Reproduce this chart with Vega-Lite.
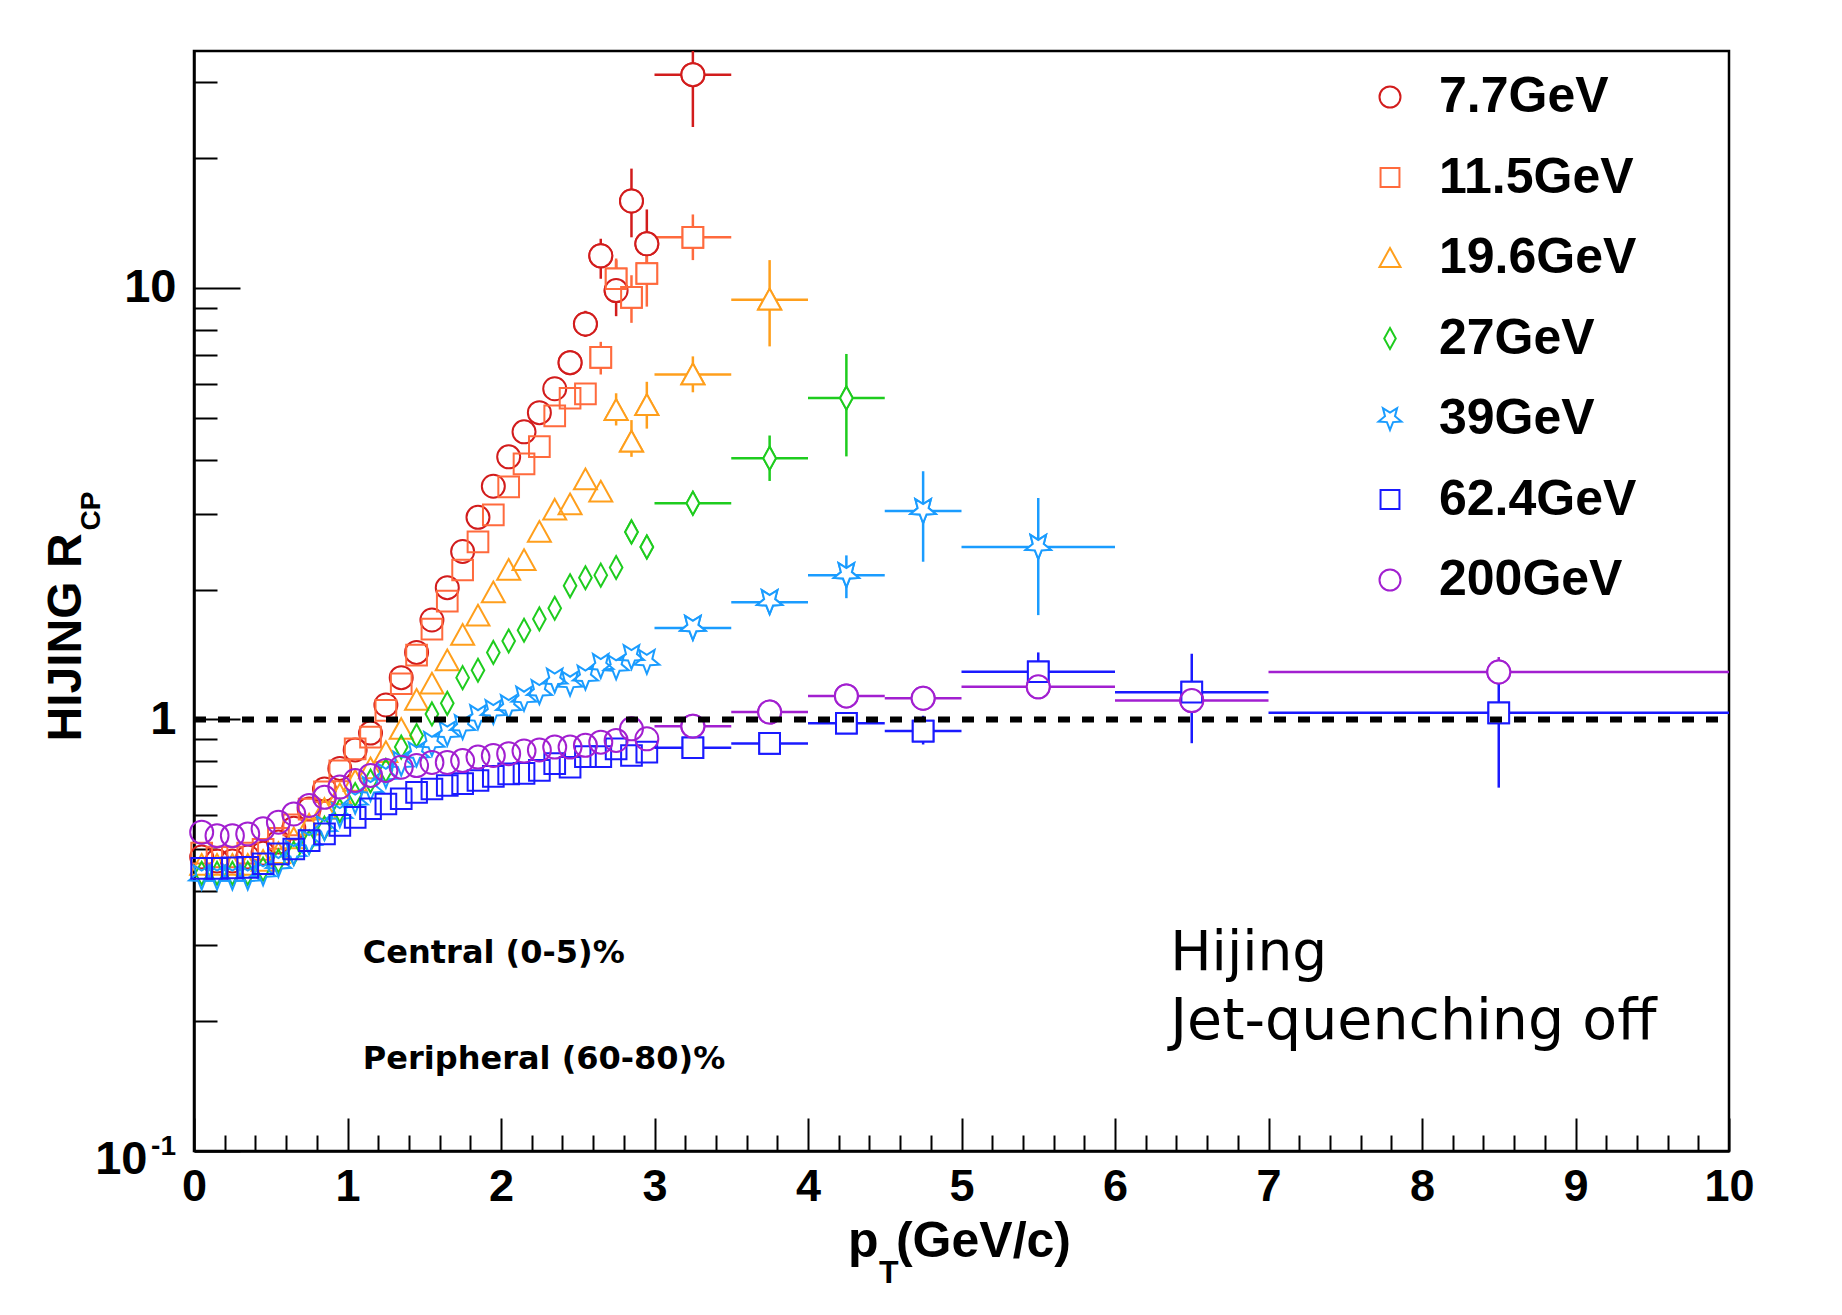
{
 "$schema": "https://vega.github.io/schema/vega-lite/v6.json",
 "width": 1535,
 "height": 1100,
 "autosize": {"type": "none"},
 "padding": {"left": 194, "top": 51, "right": 113, "bottom": 164},
 "background": "white",
 "config": {
  "view": {"stroke": "black", "strokeWidth": 2.5},
  "axis": {"grid": false, "domainColor": "black", "domainWidth": 2.5, "tickColor": "black", "tickWidth": 2, "labelColor": "black", "labelFont": "Liberation Sans", "labelFontWeight": "bold", "labelFontSize": 47, "labelOverlap": false, "labelFlush": false, "labelSeparation": 0, "title": null},
  "legend": {"orient": "none", "legendX": 1171, "legendY": 21, "labelFont": "Liberation Sans", "labelFontWeight": "bold", "labelFontSize": 50, "labelColor": "black", "labelLimit": 500, "symbolSize": 441, "symbolStrokeWidth": 2, "rowPadding": 30.5, "labelOffset": 24, "padding": 0, "direction": "vertical"}
 },
 "data": {"values": [
  {"s":"7.7GeV","pt":0.05,"r":0.48},{"s":"7.7GeV","pt":0.15,"r":0.47},{"s":"7.7GeV","pt":0.25,"r":0.47},{"s":"7.7GeV","pt":0.35,"r":0.48},{"s":"7.7GeV","pt":0.45,"r":0.49},{"s":"7.7GeV","pt":0.55,"r":0.52},{"s":"7.7GeV","pt":0.65,"r":0.56},{"s":"7.7GeV","pt":0.75,"r":0.62},{"s":"7.7GeV","pt":0.85,"r":0.69},{"s":"7.7GeV","pt":0.95,"r":0.77},{"s":"7.7GeV","pt":1.05,"r":0.85},{"s":"7.7GeV","pt":1.15,"r":0.93},{"s":"7.7GeV","pt":1.25,"r":1.08},{"s":"7.7GeV","pt":1.35,"r":1.25},{"s":"7.7GeV","pt":1.45,"r":1.43},{"s":"7.7GeV","pt":1.55,"r":1.70},{"s":"7.7GeV","pt":1.65,"r":2.02},{"s":"7.7GeV","pt":1.75,"r":2.45},{"s":"7.7GeV","pt":1.85,"r":2.94},{"s":"7.7GeV","pt":1.95,"r":3.47},{"s":"7.7GeV","pt":2.05,"r":4.06},{"s":"7.7GeV","pt":2.15,"r":4.64},{"s":"7.7GeV","pt":2.25,"r":5.14},{"s":"7.7GeV","pt":2.35,"r":5.84},{"s":"7.7GeV","pt":2.45,"r":6.71,"lo":6.3,"hi":7.15},{"s":"7.7GeV","pt":2.55,"r":8.25,"lo":7.7,"hi":8.85},{"s":"7.7GeV","pt":2.65,"r":11.87,"lo":10.5,"hi":13.0},{"s":"7.7GeV","pt":2.75,"r":9.86,"lo":8.6,"hi":11.6},{"s":"7.7GeV","pt":2.85,"r":15.9,"lo":13.1,"hi":18.9},{"s":"7.7GeV","pt":2.95,"r":12.65,"lo":10.8,"hi":15.2},{"s":"7.7GeV","pt":3.25,"r":31.2,"lo":23.6,"hi":42,"xl":3,"xh":3.5},

  {"s":"11.5GeV","pt":0.05,"r":0.49},{"s":"11.5GeV","pt":0.15,"r":0.48},{"s":"11.5GeV","pt":0.25,"r":0.48},{"s":"11.5GeV","pt":0.35,"r":0.49},{"s":"11.5GeV","pt":0.45,"r":0.50},{"s":"11.5GeV","pt":0.55,"r":0.53},{"s":"11.5GeV","pt":0.65,"r":0.57},{"s":"11.5GeV","pt":0.75,"r":0.62},{"s":"11.5GeV","pt":0.85,"r":0.68},{"s":"11.5GeV","pt":0.95,"r":0.76},{"s":"11.5GeV","pt":1.05,"r":0.855},{"s":"11.5GeV","pt":1.15,"r":0.91},{"s":"11.5GeV","pt":1.25,"r":1.05},{"s":"11.5GeV","pt":1.35,"r":1.21},{"s":"11.5GeV","pt":1.45,"r":1.41},{"s":"11.5GeV","pt":1.55,"r":1.62},{"s":"11.5GeV","pt":1.65,"r":1.88},{"s":"11.5GeV","pt":1.75,"r":2.22},{"s":"11.5GeV","pt":1.85,"r":2.58},{"s":"11.5GeV","pt":1.95,"r":2.98},{"s":"11.5GeV","pt":2.05,"r":3.46},{"s":"11.5GeV","pt":2.15,"r":3.91},{"s":"11.5GeV","pt":2.25,"r":4.29},{"s":"11.5GeV","pt":2.35,"r":5.05},{"s":"11.5GeV","pt":2.45,"r":5.55},{"s":"11.5GeV","pt":2.55,"r":5.68},{"s":"11.5GeV","pt":2.65,"r":6.9,"lo":6.3,"hi":7.5},{"s":"11.5GeV","pt":2.75,"r":10.5,"lo":9.4,"hi":11.7},{"s":"11.5GeV","pt":2.85,"r":9.51,"lo":8.3,"hi":10.7},{"s":"11.5GeV","pt":2.95,"r":10.8,"lo":9.05,"hi":12.5},{"s":"11.5GeV","pt":3.25,"r":13.1,"lo":11.6,"hi":14.8,"xl":3,"xh":3.5},

  {"s":"19.6GeV","pt":0.05,"r":0.46},{"s":"19.6GeV","pt":0.15,"r":0.46},{"s":"19.6GeV","pt":0.25,"r":0.46},{"s":"19.6GeV","pt":0.35,"r":0.46},{"s":"19.6GeV","pt":0.45,"r":0.47},{"s":"19.6GeV","pt":0.55,"r":0.49},{"s":"19.6GeV","pt":0.65,"r":0.53},{"s":"19.6GeV","pt":0.75,"r":0.57},{"s":"19.6GeV","pt":0.85,"r":0.62},{"s":"19.6GeV","pt":0.95,"r":0.67},{"s":"19.6GeV","pt":1.05,"r":0.72},{"s":"19.6GeV","pt":1.15,"r":0.77},{"s":"19.6GeV","pt":1.25,"r":0.84},{"s":"19.6GeV","pt":1.35,"r":0.95},{"s":"19.6GeV","pt":1.45,"r":1.11},{"s":"19.6GeV","pt":1.55,"r":1.21},{"s":"19.6GeV","pt":1.65,"r":1.37},{"s":"19.6GeV","pt":1.75,"r":1.57},{"s":"19.6GeV","pt":1.85,"r":1.74},{"s":"19.6GeV","pt":1.95,"r":1.97},{"s":"19.6GeV","pt":2.05,"r":2.22},{"s":"19.6GeV","pt":2.15,"r":2.34},{"s":"19.6GeV","pt":2.25,"r":2.72},{"s":"19.6GeV","pt":2.35,"r":3.06},{"s":"19.6GeV","pt":2.45,"r":3.15},{"s":"19.6GeV","pt":2.55,"r":3.6},{"s":"19.6GeV","pt":2.65,"r":3.37},{"s":"19.6GeV","pt":2.75,"r":5.21,"lo":4.8,"hi":5.7},{"s":"19.6GeV","pt":2.85,"r":4.4,"lo":4.06,"hi":4.94},{"s":"19.6GeV","pt":2.95,"r":5.35,"lo":4.72,"hi":6.06},{"s":"19.6GeV","pt":3.25,"r":6.3,"lo":5.73,"hi":6.94,"xl":3,"xh":3.5},{"s":"19.6GeV","pt":3.75,"r":9.39,"lo":7.32,"hi":11.6,"xl":3.5,"xh":4},

  {"s":"27GeV","pt":0.05,"r":0.44},{"s":"27GeV","pt":0.15,"r":0.44},{"s":"27GeV","pt":0.25,"r":0.44},{"s":"27GeV","pt":0.35,"r":0.44},{"s":"27GeV","pt":0.45,"r":0.45},{"s":"27GeV","pt":0.55,"r":0.47},{"s":"27GeV","pt":0.65,"r":0.49},{"s":"27GeV","pt":0.75,"r":0.52},{"s":"27GeV","pt":0.85,"r":0.56},{"s":"27GeV","pt":0.95,"r":0.615},{"s":"27GeV","pt":1.05,"r":0.67},{"s":"27GeV","pt":1.15,"r":0.72},{"s":"27GeV","pt":1.25,"r":0.762},{"s":"27GeV","pt":1.35,"r":0.863},{"s":"27GeV","pt":1.45,"r":0.918},{"s":"27GeV","pt":1.55,"r":1.03},{"s":"27GeV","pt":1.65,"r":1.09},{"s":"27GeV","pt":1.75,"r":1.25},{"s":"27GeV","pt":1.85,"r":1.30},{"s":"27GeV","pt":1.95,"r":1.43},{"s":"27GeV","pt":2.05,"r":1.52},{"s":"27GeV","pt":2.15,"r":1.61},{"s":"27GeV","pt":2.25,"r":1.71},{"s":"27GeV","pt":2.35,"r":1.81},{"s":"27GeV","pt":2.45,"r":2.04},{"s":"27GeV","pt":2.55,"r":2.13},{"s":"27GeV","pt":2.65,"r":2.16},{"s":"27GeV","pt":2.75,"r":2.25},{"s":"27GeV","pt":2.85,"r":2.72,"lo":2.58,"hi":2.87},{"s":"27GeV","pt":2.95,"r":2.51,"lo":2.38,"hi":2.66},{"s":"27GeV","pt":3.25,"r":3.17,"lo":3.05,"hi":3.3,"xl":3,"xh":3.5},{"s":"27GeV","pt":3.75,"r":4.03,"lo":3.57,"hi":4.55,"xl":3.5,"xh":4},{"s":"27GeV","pt":4.25,"r":5.56,"lo":4.07,"hi":7.03,"xl":4,"xh":4.5},

  {"s":"39GeV","pt":0.05,"r":0.43},{"s":"39GeV","pt":0.15,"r":0.43},{"s":"39GeV","pt":0.25,"r":0.43},{"s":"39GeV","pt":0.35,"r":0.43},{"s":"39GeV","pt":0.45,"r":0.44},{"s":"39GeV","pt":0.55,"r":0.46},{"s":"39GeV","pt":0.65,"r":0.49},{"s":"39GeV","pt":0.75,"r":0.52},{"s":"39GeV","pt":0.85,"r":0.56},{"s":"39GeV","pt":0.95,"r":0.60},{"s":"39GeV","pt":1.05,"r":0.645},{"s":"39GeV","pt":1.15,"r":0.69},{"s":"39GeV","pt":1.25,"r":0.74},{"s":"39GeV","pt":1.35,"r":0.79},{"s":"39GeV","pt":1.45,"r":0.83},{"s":"39GeV","pt":1.55,"r":0.878},{"s":"39GeV","pt":1.65,"r":0.927},{"s":"39GeV","pt":1.75,"r":0.96},{"s":"39GeV","pt":1.85,"r":1.012},{"s":"39GeV","pt":1.95,"r":1.04},{"s":"39GeV","pt":2.05,"r":1.068},{"s":"39GeV","pt":2.15,"r":1.117},{"s":"39GeV","pt":2.25,"r":1.157},{"s":"39GeV","pt":2.35,"r":1.23},{"s":"39GeV","pt":2.45,"r":1.21},{"s":"39GeV","pt":2.55,"r":1.25},{"s":"39GeV","pt":2.65,"r":1.33},{"s":"39GeV","pt":2.75,"r":1.32},{"s":"39GeV","pt":2.85,"r":1.395},{"s":"39GeV","pt":2.95,"r":1.36},{"s":"39GeV","pt":3.25,"r":1.63,"xl":3,"xh":3.5},{"s":"39GeV","pt":3.75,"r":1.87,"xl":3.5,"xh":4},{"s":"39GeV","pt":4.25,"r":2.16,"lo":1.91,"hi":2.4,"xl":4,"xh":4.5},{"s":"39GeV","pt":4.75,"r":3.04,"lo":2.32,"hi":3.76,"xl":4.5,"xh":5},{"s":"39GeV","pt":5.5,"r":2.51,"lo":1.745,"hi":3.26,"xl":5,"xh":6},

  {"s":"62.4GeV","pt":0.05,"r":0.452},{"s":"62.4GeV","pt":0.15,"r":0.452},{"s":"62.4GeV","pt":0.25,"r":0.453},{"s":"62.4GeV","pt":0.35,"r":0.454},{"s":"62.4GeV","pt":0.45,"r":0.463},{"s":"62.4GeV","pt":0.55,"r":0.488},{"s":"62.4GeV","pt":0.65,"r":0.501},{"s":"62.4GeV","pt":0.75,"r":0.524},{"s":"62.4GeV","pt":0.85,"r":0.543},{"s":"62.4GeV","pt":0.95,"r":0.568},{"s":"62.4GeV","pt":1.05,"r":0.593},{"s":"62.4GeV","pt":1.15,"r":0.621},{"s":"62.4GeV","pt":1.25,"r":0.637},{"s":"62.4GeV","pt":1.35,"r":0.655},{"s":"62.4GeV","pt":1.45,"r":0.678},{"s":"62.4GeV","pt":1.55,"r":0.69},{"s":"62.4GeV","pt":1.65,"r":0.703},{"s":"62.4GeV","pt":1.75,"r":0.71},{"s":"62.4GeV","pt":1.85,"r":0.722},{"s":"62.4GeV","pt":1.95,"r":0.738},{"s":"62.4GeV","pt":2.05,"r":0.748},{"s":"62.4GeV","pt":2.15,"r":0.75},{"s":"62.4GeV","pt":2.25,"r":0.762},{"s":"62.4GeV","pt":2.35,"r":0.79},{"s":"62.4GeV","pt":2.45,"r":0.775},{"s":"62.4GeV","pt":2.55,"r":0.82},{"s":"62.4GeV","pt":2.65,"r":0.82},{"s":"62.4GeV","pt":2.75,"r":0.855},{"s":"62.4GeV","pt":2.85,"r":0.825},{"s":"62.4GeV","pt":2.95,"r":0.84},{"s":"62.4GeV","pt":3.25,"r":0.86,"xl":3,"xh":3.5},{"s":"62.4GeV","pt":3.75,"r":0.88,"xl":3.5,"xh":4},{"s":"62.4GeV","pt":4.25,"r":0.98,"xl":4,"xh":4.5},{"s":"62.4GeV","pt":4.75,"r":0.94,"lo":0.875,"hi":1.02,"xl":4.5,"xh":5},{"s":"62.4GeV","pt":5.5,"r":1.29,"lo":1.15,"hi":1.43,"xl":5,"xh":6},{"s":"62.4GeV","pt":6.5,"r":1.157,"lo":0.881,"hi":1.42,"xl":6,"xh":7},{"s":"62.4GeV","pt":8.5,"r":1.036,"lo":0.695,"hi":1.37,"xl":7,"xh":10},

  {"s":"200GeV","pt":0.05,"r":0.548},{"s":"200GeV","pt":0.15,"r":0.538},{"s":"200GeV","pt":0.25,"r":0.538},{"s":"200GeV","pt":0.35,"r":0.543},{"s":"200GeV","pt":0.45,"r":0.558},{"s":"200GeV","pt":0.55,"r":0.578},{"s":"200GeV","pt":0.65,"r":0.604},{"s":"200GeV","pt":0.75,"r":0.632},{"s":"200GeV","pt":0.85,"r":0.66},{"s":"200GeV","pt":0.95,"r":0.697},{"s":"200GeV","pt":1.05,"r":0.722},{"s":"200GeV","pt":1.15,"r":0.742},{"s":"200GeV","pt":1.25,"r":0.762},{"s":"200GeV","pt":1.35,"r":0.775},{"s":"200GeV","pt":1.45,"r":0.782},{"s":"200GeV","pt":1.55,"r":0.795},{"s":"200GeV","pt":1.65,"r":0.795},{"s":"200GeV","pt":1.75,"r":0.803},{"s":"200GeV","pt":1.85,"r":0.818},{"s":"200GeV","pt":1.95,"r":0.825},{"s":"200GeV","pt":2.05,"r":0.833},{"s":"200GeV","pt":2.15,"r":0.845},{"s":"200GeV","pt":2.25,"r":0.85},{"s":"200GeV","pt":2.35,"r":0.863},{"s":"200GeV","pt":2.45,"r":0.863},{"s":"200GeV","pt":2.55,"r":0.871},{"s":"200GeV","pt":2.65,"r":0.886},{"s":"200GeV","pt":2.75,"r":0.894},{"s":"200GeV","pt":2.85,"r":0.951},{"s":"200GeV","pt":2.95,"r":0.902},{"s":"200GeV","pt":3.25,"r":0.965,"xl":3,"xh":3.5},{"s":"200GeV","pt":3.75,"r":1.04,"xl":3.5,"xh":4},{"s":"200GeV","pt":4.25,"r":1.134,"xl":4,"xh":4.5},{"s":"200GeV","pt":4.75,"r":1.12,"xl":4.5,"xh":5},{"s":"200GeV","pt":5.5,"r":1.19,"xl":5,"xh":6},{"s":"200GeV","pt":6.5,"r":1.106,"xl":6,"xh":7},{"s":"200GeV","pt":8.5,"r":1.288,"lo":1.22,"hi":1.395,"xl":7,"xh":10}
 ]},
 "layer": [
  {
   "mark": {"type": "point", "filled": false, "size": 529, "strokeWidth": 2, "opacity": 1},
   "encoding": {
    "x": {"field": "pt", "type": "quantitative", "scale": {"domain": [0, 10], "nice": false, "zero": false},
     "axis": {"values": [0,0.2,0.4,0.6,0.8,1,1.2,1.4,1.6,1.8,2,2.2,2.4,2.6,2.8,3,3.2,3.4,3.6,3.8,4,4.2,4.4,4.6,4.8,5,5.2,5.4,5.6,5.8,6,6.2,6.4,6.6,6.8,7,7.2,7.4,7.6,7.8,8,8.2,8.4,8.6,8.8,9,9.2,9.4,9.6,9.8,10],
      "tickCount": 200,
      "tickSize": {"condition": {"test": "indexof([0,1,2,3,4,5,6,7,8,9,10], datum.value) >= 0", "value": -33}, "value": -16},
      "labelExpr": "indexof([0,1,2,3,4,5,6,7,8,9,10], datum.value) >= 0 ? format(datum.value, 'd') : ''",
      "labelOverlap": false, "labelFlush": false, "labelSeparation": 0,
      "labelFontSize": 45,
      "labelPadding": 46, "labelBaseline": "top"}},
    "y": {"field": "r", "type": "quantitative", "scale": {"type": "log", "domain": [0.1, 35.4], "nice": false},
     "axis": {"values": [0.1,0.2,0.3,0.4,0.5,0.6,0.7,0.8,0.9,1,2,3,4,5,6,7,8,9,10,20,30],
      "tickCount": 200,
      "tickSize": {"condition": {"test": "datum.value === 0.1 || datum.value === 1 || datum.value === 10", "value": -46}, "value": -23},
      "labelExpr": "datum.value === 10 ? '10' : datum.value === 1 ? '1' : datum.value === 0.1 ? '10' : ''",
      "labelOverlap": false, "labelFlush": false,
      "labelPadding": {"condition": {"test": "datum.value === 0.1", "value": 93}, "value": 64},
      "labelOffset": {"condition": {"test": "datum.value === 0.1", "value": 8}, "value": 0}}},
    "color": {"field": "s", "type": "nominal", "scale": {"domain": ["7.7GeV","11.5GeV","19.6GeV","27GeV","39GeV","62.4GeV","200GeV"], "range": ["#d21c1c","#ff6a3d","#ff9f1c","#1ecc1e","#1a9cff","#1a1aff","#a21fd0"]}, "legend": {"title": null}},
    "shape": {"field": "s", "type": "nominal", "scale": {"domain": ["7.7GeV","11.5GeV","19.6GeV","27GeV","39GeV","62.4GeV","200GeV"], "range": ["circle","M-0.9,-0.9L0.9,-0.9L0.9,0.9L-0.9,0.9Z","M0,-0.95L1,0.85L-1,0.85Z","M0,-1L0.55,0L0,1L-0.55,0Z","M0,1.04L0.294,0.295L1.094,0.245L0.476,-0.265L0.676,-1.04L0,-0.61L-0.676,-1.04L-0.476,-0.265L-1.094,0.245L-0.294,0.295Z","M-0.9,-0.9L0.9,-0.9L0.9,0.9L-0.9,0.9Z","circle"]}, "legend": {"title": null}}
   }
  },
  {
   "transform": [{"filter": "isValid(datum.lo)"}],
   "mark": {"type": "rule", "strokeWidth": 2.5, "clip": true},
   "encoding": {
    "x": {"field": "pt", "type": "quantitative"},
    "y": {"field": "lo", "type": "quantitative"},
    "y2": {"field": "hi"},
    "color": {"field": "s", "type": "nominal"}
   }
  },
  {
   "transform": [{"filter": "isValid(datum.xl)"}],
   "mark": {"type": "rule", "strokeWidth": 2.5, "clip": true},
   "encoding": {
    "x": {"field": "xl", "type": "quantitative"},
    "x2": {"field": "xh"},
    "y": {"field": "r", "type": "quantitative"},
    "color": {"field": "s", "type": "nominal"}
   }
  },
  {
   "transform": [{"filter": "isValid(datum.lo) || isValid(datum.xl)"}],
   "mark": {"type": "point", "filled": true, "size": 529, "opacity": 1, "color": "white", "strokeWidth": 0},
   "encoding": {
    "x": {"field": "pt", "type": "quantitative"},
    "y": {"field": "r", "type": "quantitative"},
    "shape": {"field": "s", "type": "nominal"}
   }
  },
  {
   "transform": [{"filter": "isValid(datum.lo) || isValid(datum.xl)"}],
   "mark": {"type": "point", "filled": false, "size": 529, "strokeWidth": 2, "opacity": 1},
   "encoding": {
    "x": {"field": "pt", "type": "quantitative"},
    "y": {"field": "r", "type": "quantitative"},
    "color": {"field": "s", "type": "nominal"},
    "shape": {"field": "s", "type": "nominal"}
   }
  },
  {
   "data": {"values": [{}]},
   "mark": {"type": "rule", "color": "black", "strokeWidth": 6, "strokeDash": [12, 12]},
   "encoding": {
    "x": {"datum": 0, "type": "quantitative"},
    "x2": {"datum": 10},
    "y": {"datum": 1, "type": "quantitative"}
   }
  },
  {
   "data": {"values": [{}]},
   "mark": {"type": "text", "text": "Central (0-5)%", "font": "DejaVu Sans", "fontWeight": "bold", "fontSize": 32, "align": "left", "baseline": "alphabetic", "color": "black"},
   "encoding": {"x": {"datum": 1.1, "type": "quantitative"}, "y": {"datum": 0.272, "type": "quantitative"}}
  },
  {
   "data": {"values": [{}]},
   "mark": {"type": "text", "text": "Peripheral (60-80)%", "font": "DejaVu Sans", "fontWeight": "bold", "fontSize": 32, "align": "left", "baseline": "alphabetic", "color": "black"},
   "encoding": {"x": {"datum": 1.1, "type": "quantitative"}, "y": {"datum": 0.1553, "type": "quantitative"}}
  },
  {
   "data": {"values": [{}]},
   "mark": {"type": "text", "text": "Hijing", "font": "DejaVu Sans", "fontSize": 55, "align": "left", "baseline": "alphabetic", "color": "black"},
   "encoding": {"x": {"datum": 6.36, "type": "quantitative"}, "y": {"datum": 0.262, "type": "quantitative"}}
  },
  {
   "data": {"values": [{}]},
   "mark": {"type": "text", "text": "Jet-quenching off", "font": "DejaVu Sans", "fontSize": 57, "align": "left", "baseline": "alphabetic", "color": "black"},
   "encoding": {"x": {"datum": 6.36, "type": "quantitative"}, "y": {"datum": 0.182, "type": "quantitative"}}
  },
  {
   "data": {"values": [{}]},
   "mark": {"type": "text", "text": "HIJING R", "font": "Liberation Sans", "fontWeight": "bold", "fontSize": 48, "angle": 270, "align": "right", "baseline": "alphabetic", "color": "black"},
   "encoding": {"x": {"datum": -0.738, "type": "quantitative"}, "y": {"datum": 2.698, "type": "quantitative"}}
  },
  {
   "data": {"values": [{}]},
   "mark": {"type": "text", "text": "CP", "font": "Liberation Sans", "fontWeight": "bold", "fontSize": 28, "angle": 270, "align": "left", "baseline": "alphabetic", "dx": 3, "dy": 19, "color": "black"},
   "encoding": {"x": {"datum": -0.738, "type": "quantitative"}, "y": {"datum": 2.698, "type": "quantitative"}}
  },
  {
   "data": {"values": [{}]},
   "mark": {"type": "text", "text": "p", "font": "Liberation Sans", "fontWeight": "bold", "fontSize": 50, "align": "left", "baseline": "alphabetic", "color": "black"},
   "encoding": {"x": {"datum": 4.26, "type": "quantitative"}, "y": {"datum": 0.05693, "type": "quantitative"}}
  },
  {
   "data": {"values": [{}]},
   "mark": {"type": "text", "text": "T", "font": "Liberation Sans", "fontWeight": "bold", "fontSize": 32, "align": "left", "baseline": "alphabetic", "color": "black"},
   "encoding": {"x": {"datum": 4.463, "type": "quantitative"}, "y": {"datum": 0.04932, "type": "quantitative"}}
  },
  {
   "data": {"values": [{}]},
   "mark": {"type": "text", "text": "(GeV/c)", "font": "Liberation Sans", "fontWeight": "bold", "fontSize": 50, "align": "left", "baseline": "alphabetic", "color": "black"},
   "encoding": {"x": {"datum": 4.573, "type": "quantitative"}, "y": {"datum": 0.05693, "type": "quantitative"}}
  },
  {
   "data": {"values": [{}]},
   "mark": {"type": "text", "text": "-1", "font": "Liberation Sans", "fontWeight": "bold", "fontSize": 28, "align": "right", "baseline": "alphabetic", "dx": -18, "dy": 4, "color": "black"},
   "encoding": {"x": {"datum": 0, "type": "quantitative"}, "y": {"datum": 0.1, "type": "quantitative"}}
  }
 ]
}
